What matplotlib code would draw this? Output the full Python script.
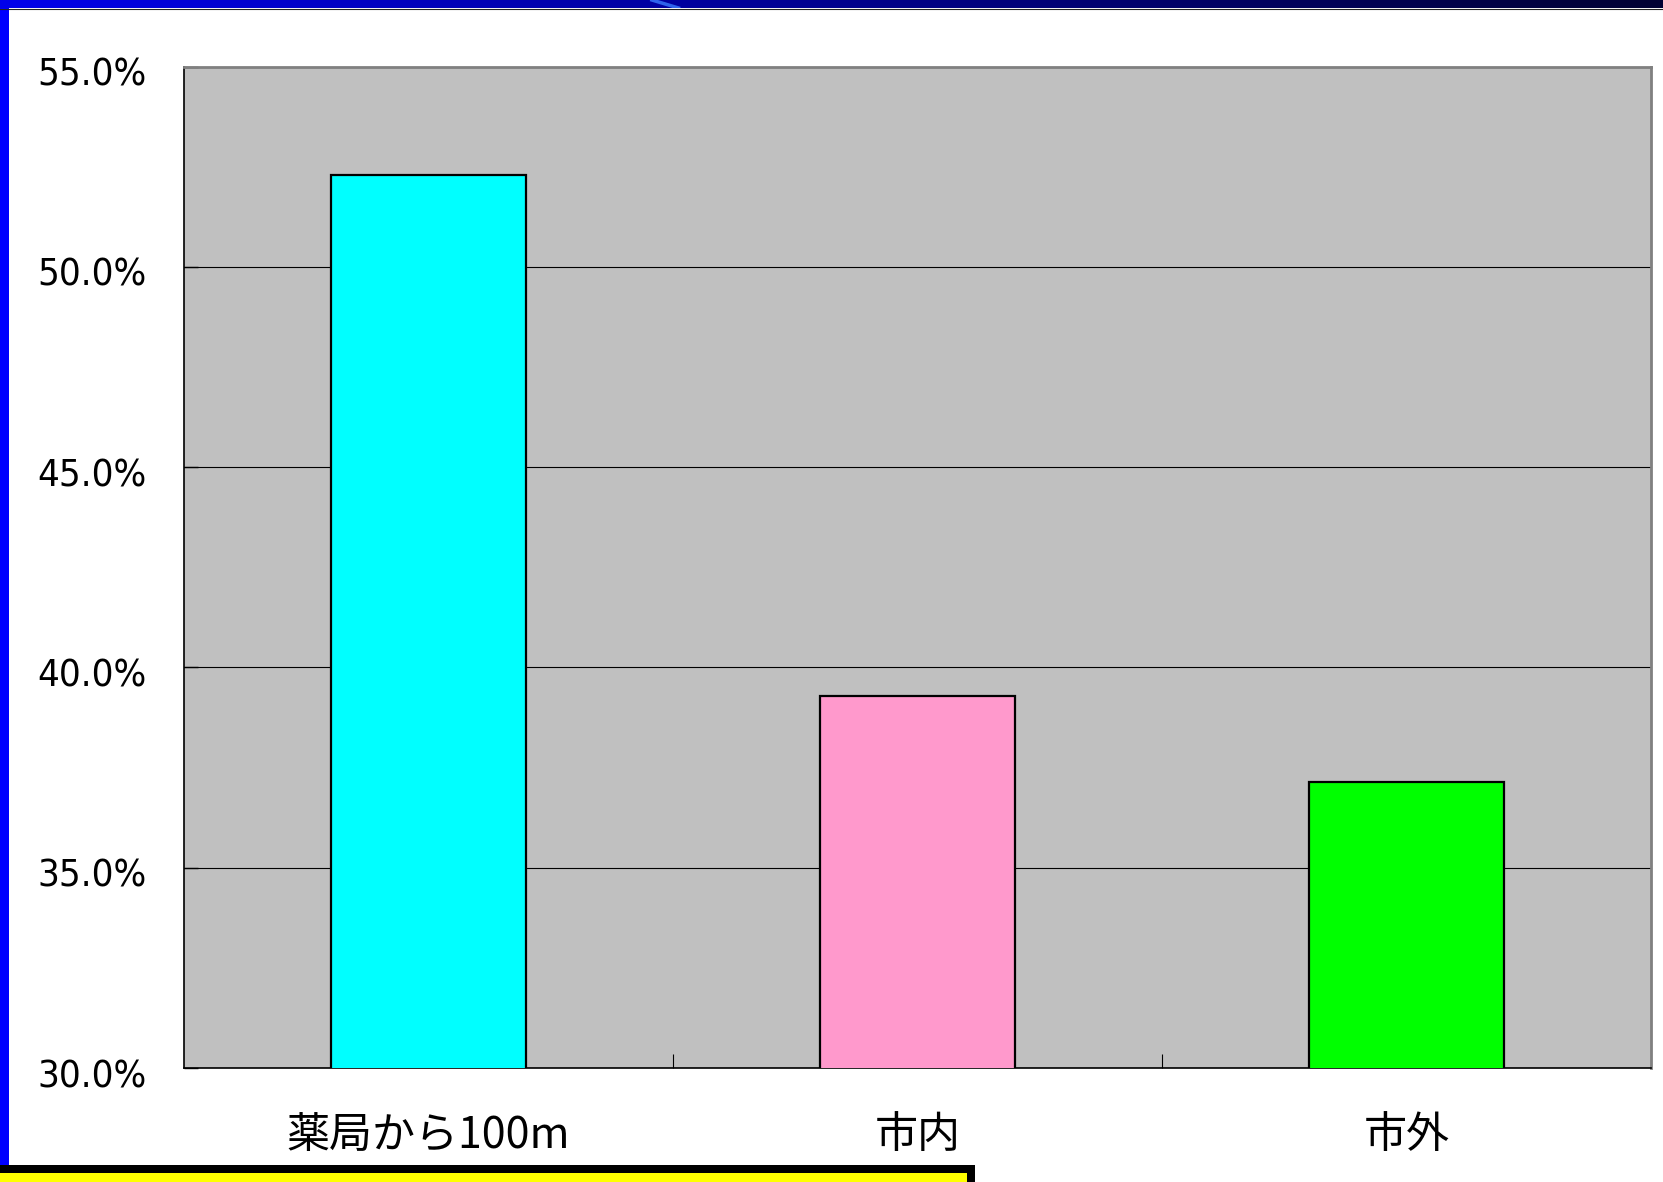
import numpy as np
import matplotlib
matplotlib.use("Agg")
import matplotlib.pyplot as plt
import matplotlib.transforms as mtransforms
from matplotlib.ticker import FuncFormatter, FixedLocator
from matplotlib.patches import Rectangle
from matplotlib import font_manager

# Share of respondents by distance category
categories = ["薬局から100m", "市内", "市外"]
shares = [52.3, 39.3, 37.15]
bar_colors = ["#00FFFF", "#FF99CC", "#00FF00"]
y_ticks = [30, 35, 40, 45, 50, 55]

W, H = 1663, 1182
fig = plt.figure(figsize=(W / 100, H / 100), dpi=100, facecolor="white")

# Pick a narrow sans face for the percentage labels when one is installed
narrow = None
for f in font_manager.fontManager.ttflist:
    name = f.name
    stretch = str(f.stretch).lower()
    if "narrow" in name.lower() or "condensed" in name.lower() or stretch in ("condensed", "semi-condensed", "extra-condensed"):
        if f.style == "normal" and f.weight in (400, "normal", "regular"):
            if any(k in name for k in ("Liberation", "DejaVu", "Noto", "Open", "Roboto")):
                narrow = f
                break
if narrow is not None:
    num_prop = font_manager.FontProperties(fname=narrow.fname, size=27.5)
else:
    num_prop = font_manager.FontProperties(family="Liberation Sans", size=26)
jp_font = ["Noto Sans CJK JP", "DejaVu Sans"]

# Slide frame: blue gradient band along the top, blue band down the left
top = fig.add_axes([0, 1 - 8 / H, 1, 8 / H])
grad = np.linspace(0, 1, 512)[None, :]
r = np.zeros_like(grad)
g = np.zeros_like(grad)
b = 0.92 - 0.72 * grad
top.imshow(np.dstack([r, g, b]), aspect="auto", extent=[0, 1, 0, 1])
top.plot([0.392, 0.408], [1.0, 0.0], color="#3A7BFF", lw=2.5, alpha=0.8)
top.set_xlim(0, 1)
top.set_ylim(0, 1)
top.axis("off")
fig.add_artist(plt.Line2D([0, 1], [1 - 8.5 / H, 1 - 8.5 / H], color="#222222", lw=0.8))

fig.add_artist(Rectangle((0, 17 / H), 9 / W, 1 - 25 / H, transform=fig.transFigure,
                         facecolor="#0000FF", edgecolor="none"))

# Yellow caption box peeking in at the bottom left
fig.add_artist(Rectangle((0, 0), 975 / W, 17 / H, transform=fig.transFigure,
                         facecolor="#000000", edgecolor="none"))
fig.add_artist(Rectangle((0, 0), 967 / W, 9 / H, transform=fig.transFigure,
                         facecolor="#FFFF00", edgecolor="none"))

# Main chart
ax = fig.add_axes([184 / W, 1 - 1068 / H, (1651 - 184) / W, (1068 - 66.7) / H])
ax.set_facecolor("#C0C0C0")
x = np.arange(len(categories))
ax.bar(x, shares, width=0.4, color=bar_colors, edgecolor="black", linewidth=1.6, zorder=3)

ax.set_xlim(-0.5, len(categories) - 0.5)
ax.set_ylim(30, 55)
ax.yaxis.set_major_locator(FixedLocator(y_ticks))
ax.yaxis.set_major_formatter(FuncFormatter(lambda v, _: f"{v:.1f}%"))
ax.grid(axis="y", color="black", linewidth=0.8, zorder=1)
ax.set_axisbelow(True)

ax.set_xticks(x)
ax.set_xticklabels(categories, fontsize=31, family=jp_font)
ax.set_xticks(np.arange(len(categories) - 1) + 0.5, minor=True)
ax.tick_params(axis="x", which="major", length=0, pad=33)
ax.tick_params(axis="x", which="minor", direction="in", length=10, width=0.8, color="black")
ax.tick_params(axis="y", which="major", direction="in", length=10, width=1.0, color="black", pad=27)

# Percentage labels sit a few pixels below their gridlines
shift = mtransforms.ScaledTranslation(0, -5 / 100, fig.dpi_scale_trans)
for tick in ax.yaxis.get_major_ticks():
    lab = tick.label1
    lab.set_fontproperties(num_prop)
    lab.set_transform(lab.get_transform() + shift)

for side in ("top", "right"):
    ax.spines[side].set_color("#808080")
    ax.spines[side].set_linewidth(2.0)
for side in ("left", "bottom"):
    ax.spines[side].set_color("black")
    ax.spines[side].set_linewidth(1.2)

fig.savefig("out.png", dpi=100, facecolor="white")
